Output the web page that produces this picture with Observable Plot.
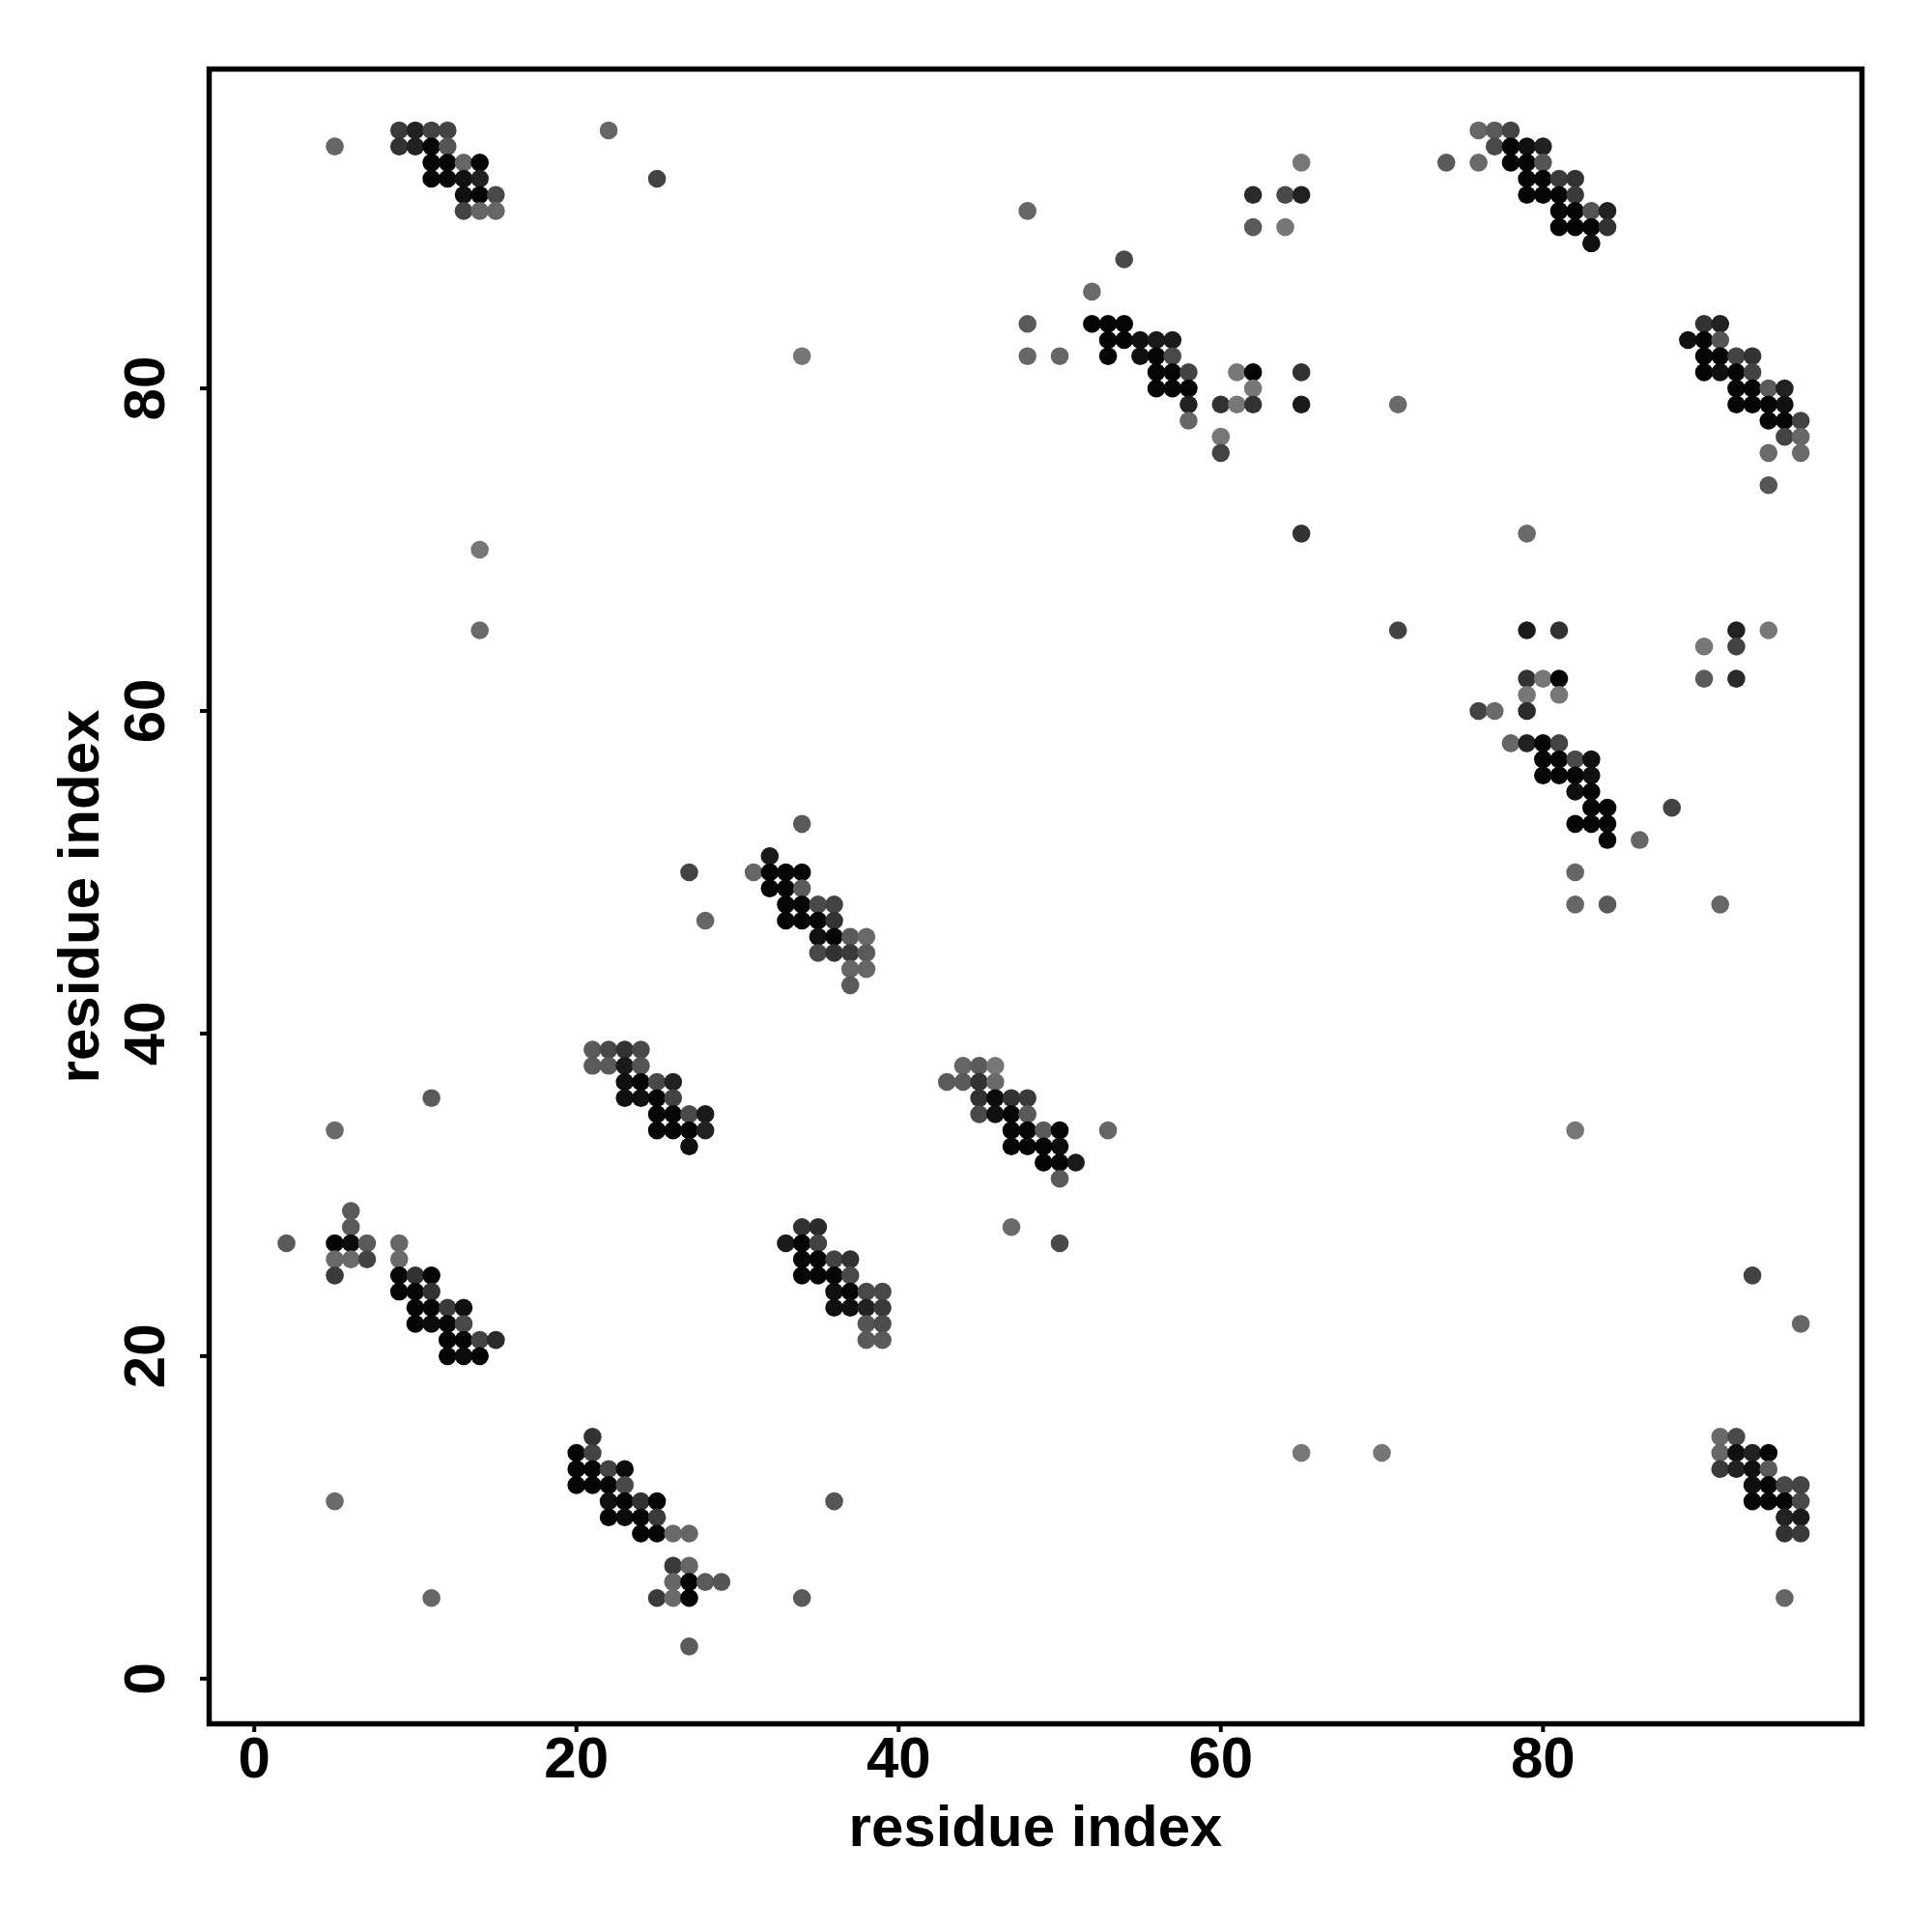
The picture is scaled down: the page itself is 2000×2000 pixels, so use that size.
<!DOCTYPE html>
<html>
<head>
<meta charset="utf-8">
<script src="https://cdn.jsdelivr.net/npm/d3@7"></script>
<script src="https://cdn.jsdelivr.net/npm/@observablehq/plot@0.6"></script>
<style>
  html, body { margin: 0; padding: 0; background: #fff; }
</style>
</head>
<body>
<div id="chart"></div>
<script>
// Axis ticks and titles
const xTicks = [0, 20, 40, 60, 80];
const yTicks = [0, 20, 40, 60, 80];
const xTitle = "residue index";
const yTitle = "residue index";

// Contacts: [residue i, residue j, score (darkness 0..1)]
const clusterTopLeft = [
  [9,96,0.63],[10,96,0.8],[11,96,0.56],[12,96,0.56],
  [9,95,0.68],[10,95,0.8],[11,95,1],[12,95,0.44],
  [11,94,1],[12,94,1],[13,94,0.32],[14,94,1],
  [11,93,1],[12,93,1],[13,93,0.92],[14,93,0.8],
  [13,92,0.92],[14,92,1],[15,92,0.52],
  [13,91,0.56],[14,91,0.32],[15,91,0.32]
];
const clusterTopMid = [
  [65,94,0.2],[62,92,0.74],[64,92,0.52],[65,92,0.8],[62,90,0.4],[64,90,0.2],
  [48,91,0.32],[54,88,0.52],[52,86,0.29],[48,84,0.4],[48,82,0.32],[50,82,0.32],
  [52,84,1],[53,84,1],[54,84,1],
  [53,83,1],[54,83,1],[55,83,0.92],[56,83,0.85],[57,83,0.85],
  [53,82,1],[55,82,0.92],[56,82,1],[57,82,0.52],
  [56,81,1],[57,81,1],[58,81,0.56],[61,81,0.2],[62,81,1],[65,81,0.68],
  [56,80,1],[57,80,1],[58,80,1],[62,80,0.2],
  [58,79,0.8],[60,79,0.68],[61,79,0.2],[62,79,0.68],[65,79,0.85],
  [58,78,0.32],[60,77,0.2],[60,76,0.56]
];
const clusterTopRight = [
  [76,96,0.32],[77,96,0.4],[78,96,0.56],
  [77,95,0.52],[78,95,1],[79,95,0.92],[80,95,0.8],
  [74,94,0.4],[76,94,0.29],[78,94,1],[79,94,1],[80,94,0.44],
  [79,93,1],[80,93,1],[81,93,0.63],[82,93,0.68],
  [79,92,1],[80,92,1],[81,92,1],[82,92,0.63],
  [81,91,1],[82,91,1],[83,91,0.44],[84,91,0.8],
  [81,90,1],[82,90,1],[83,90,1],[84,90,0.68],
  [83,89,0.92]
];
const clusterRightUpper = [
  [90,84,0.68],[91,84,0.8],
  [89,83,0.92],[90,83,1],[91,83,0.44],
  [90,82,1],[91,82,1],[92,82,0.56],[93,82,0.68],
  [90,81,1],[91,81,0.92],[92,81,1],[93,81,0.56],
  [92,80,1],[93,80,1],[94,80,0.4],[95,80,0.8],
  [92,79,1],[93,79,1],[94,79,1],[95,79,0.92],
  [94,78,1],[95,78,1],[96,78,0.56],
  [95,77,0.56],[96,77,0.32],
  [94,76,0.29],[96,76,0.29],
  [94,74,0.44]
];
const clusterRightMiddle = [
  [79,65,0.85],[81,65,0.68],[92,65,0.8],[94,65,0.2],
  [90,64,0.2],[92,64,0.56],
  [79,62,0.68],[80,62,0.2],[81,62,1],[90,62,0.4],[92,62,0.74],
  [79,61,0.2],[81,61,0.2],
  [76,60,0.56],[77,60,0.29],[79,60,0.74],
  [78,58,0.32],[79,58,0.8],[80,58,1],[81,58,0.56],
  [80,57,1],[81,57,1],[82,57,0.52],[83,57,0.92],
  [80,56,1],[81,56,1],[82,56,1],[83,56,0.92],
  [82,55,0.92],[83,55,1],
  [83,54,1],[84,54,1],[88,54,0.56],
  [82,53,1],[83,53,1],[84,53,1],
  [84,52,1],[86,52,0.32],
  [82,50,0.32],[82,48,0.32],[84,48,0.4],[91,48,0.32]
];
const clusterCenter = [
  [34,53,0.4],[32,51,0.85],
  [27,50,0.56],[31,50,0.32],[32,50,1],[33,50,1],[34,50,1],
  [32,49,1],[33,49,1],[34,49,0.4],
  [33,48,1],[34,48,1],[35,48,0.52],[36,48,0.56],
  [28,47,0.32],[33,47,1],[34,47,1],[35,47,1],[36,47,0.68],
  [35,46,0.92],[36,46,1],[37,46,0.4],[38,46,0.29],
  [35,45,0.52],[36,45,0.68],[37,45,0.63],[38,45,0.4],
  [37,44,0.32],[38,44,0.32],
  [37,43,0.4]
];
const clusterMidLeft = [
  [21,39,0.4],[22,39,0.52],[23,39,0.68],[24,39,0.52],
  [21,38,0.4],[22,38,0.4],[23,38,0.85],[24,38,0.44],
  [23,37,0.92],[24,37,1],[25,37,0.52],[26,37,0.8],
  [23,36,0.92],[24,36,0.92],[25,36,1],[26,36,0.56],
  [25,35,1],[26,35,1],[27,35,0.52],[28,35,0.85],
  [25,34,1],[26,34,1],[27,34,1],[28,34,0.8],
  [27,33,0.92]
];
const clusterMidRight = [
  [44,38,0.32],[45,38,0.4],[46,38,0.2],
  [43,37,0.4],[44,37,0.4],[45,37,0.68],[46,37,0.29],
  [45,36,0.68],[46,36,0.96],[47,36,0.68],[48,36,0.63],
  [45,35,0.52],[46,35,0.92],[47,35,1],[48,35,0.4],
  [47,34,1],[48,34,1],[49,34,0.4],[50,34,1],[53,34,0.32],
  [47,33,1],[48,33,1],[49,33,1],[50,33,0.96],
  [49,32,1],[50,32,1],[51,32,0.85],
  [50,31,0.4],
  [47,28,0.29],[50,27,0.52]
];
const clusterLowMid = [
  [34,28,0.68],[35,28,0.74],
  [33,27,0.85],[34,27,1],[35,27,0.56],
  [34,26,1],[35,26,1],[36,26,0.56],[37,26,0.68],
  [34,25,1],[35,25,1],[36,25,1],[37,25,0.52],
  [36,24,0.92],[37,24,1],[38,24,0.52],[39,24,0.52],
  [36,23,0.92],[37,23,0.92],[38,23,0.8],[39,23,0.63],
  [38,22,0.44],[39,22,0.5],
  [38,21,0.4],[39,21,0.4]
];
const clusterLowLeft = [
  [2,27,0.4],[6,29,0.4],[6,28,0.4],
  [5,27,1],[6,27,0.96],[7,27,0.4],[9,27,0.32],
  [5,26,0.29],[6,26,0.29],[7,26,0.56],[9,26,0.29],
  [5,25,0.63],[9,25,1],[10,25,0.68],[11,25,1],
  [9,24,1],[10,24,1],[11,24,0.68],
  [10,23,1],[11,23,1],[12,23,0.63],[13,23,0.92],
  [10,22,1],[11,22,0.96],[12,22,1],[13,22,0.52],
  [12,21,1],[13,21,1],[14,21,0.56],[15,21,0.74],
  [12,20,1],[13,20,0.96],[14,20,1]
];
const clusterBottom = [
  [21,15,0.68],[20,14,1],[21,14,0.56],
  [20,13,1],[21,13,1],[22,13,0.56],[23,13,0.96],
  [20,12,1],[21,12,1],[22,12,1],[23,12,0.52],
  [22,11,0.92],[23,11,1],[24,11,0.68],[25,11,1],
  [22,10,1],[23,10,0.96],[24,10,1],[25,10,0.63],
  [24,9,1],[25,9,1],[26,9,0.29],[27,9,0.32],
  [26,7,0.63],[27,7,0.32],
  [26,6,0.32],[27,6,1],[28,6,0.4],[29,6,0.44],
  [25,5,0.63],[26,5,0.29],[27,5,1],
  [27,2,0.4]
];
const clusterBottomRight = [
  [91,15,0.29],[92,15,0.52],
  [91,14,0.32],[92,14,0.92],[93,14,0.8],[94,14,1],
  [91,13,0.63],[92,13,0.8],[93,13,0.92],[94,13,0.4],
  [93,12,0.92],[94,12,1],[95,12,0.52],[96,12,0.56],
  [93,11,1],[94,11,1],[95,11,1],[96,11,0.52],
  [95,10,0.8],[96,10,0.85],
  [95,9,0.68],[96,9,0.63],
  [95,5,0.32]
];
const scattered = [
  [5,95,0.32],[22,96,0.32],[25,93,0.56],
  [5,11,0.29],[11,5,0.32],[34,5,0.4],[36,11,0.44],
  [14,70,0.2],[14,65,0.29],[5,34,0.29],[11,36,0.4],
  [34,82,0.2],[65,71,0.68],[71,79,0.29],[71,65,0.56],[79,71,0.29],
  [65,14,0.2],[70,14,0.2],[82,34,0.2],[93,25,0.56],[96,22,0.32]
];

const contacts = [].concat(
  clusterTopLeft, clusterTopMid, clusterTopRight, clusterRightUpper,
  clusterRightMiddle, clusterCenter, clusterMidLeft, clusterMidRight,
  clusterLowMid, clusterLowLeft, clusterBottom, clusterBottomRight, scattered
).map(([i, j, p]) => ({i, j, p}));

const font = "'Liberation Sans', Arial, Helvetica, sans-serif";
const textStyle = {fontSize: 60, fontWeight: "bold", fill: "#000", textAnchor: "middle", lineAnchor: "middle"};

const chart = Plot.plot({
  width: 2000,
  height: 2000,
  marginLeft: 216,
  marginRight: 73,
  marginTop: 71,
  marginBottom: 216,
  x: {domain: [-2.8, 99.8]},
  y: {domain: [-2.8, 99.8]},
  color: {type: "linear", domain: [0, 1], range: ["#939393", "#050505"]},
  style: {fontFamily: font, fontWeight: "bold", background: "#fff", color: "#000"},
  marks: [
    Plot.dot(contacts, {x: "i", y: "j", fill: "p", r: 9.3, stroke: "none"}),
    Plot.frame({stroke: "#000", strokeWidth: 5.5}),
    Plot.axisX({ticks: xTicks, tickSize: 9, strokeWidth: 4, tickFormat: () => "", label: null}),
    Plot.axisY({ticks: yTicks, tickSize: 9, strokeWidth: 4, tickFormat: () => "", label: null}),
    Plot.text(xTicks, {x: d => d, text: d => String(d), frameAnchor: "bottom", dy: 36, ...textStyle}),
    Plot.text(yTicks, {y: d => d, text: d => String(d), frameAnchor: "left", dx: -66, rotate: -90, ...textStyle}),
    Plot.text([xTitle], {text: d => d, frameAnchor: "bottom", dy: 107, ...textStyle}),
    Plot.text([yTitle], {text: d => d, frameAnchor: "left", dx: -134, rotate: -90, ...textStyle})
  ]
});
document.getElementById("chart").appendChild(chart);
</script>
</body>
</html>
